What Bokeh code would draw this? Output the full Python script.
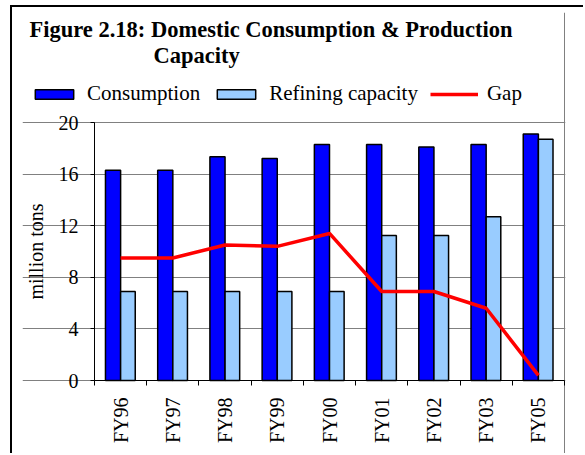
import math
from bokeh.plotting import figure
from bokeh.models import (ColumnDataSource, Range1d, FixedTicker, Legend, LegendItem,
                          Label, LinearAxis)
from bokeh.embed import file_html
from bokeh.resources import INLINE

# ---- data ----
years = ["FY96", "FY97", "FY98", "FY99", "FY00", "FY01", "FY02", "FY03", "FY05"]
consumption = [16.3, 16.3, 17.35, 17.2, 18.3, 18.3, 18.1, 18.3, 19.1]
capacity = [6.9, 6.9, 6.9, 6.9, 6.9, 11.25, 11.25, 12.7, 18.7]
gap = [9.5, 9.5, 10.5, 10.4, 11.4, 6.9, 6.9, 5.6, 0.4]
y_ticks = [0, 4, 8, 12, 16, 20]
series_names = ["Consumption", "Refining capacity", "Gap"]
title_lines = ["Figure 2.18: Domestic Consumption & Production", "Capacity"]

n = len(years)
xpos = list(range(1, n + 1))
src = ColumnDataSource(dict(
    x=xpos,
    xc=[v - 0.145 for v in xpos],
    xr=[v + 0.14 for v in xpos],
    cons=consumption, cap=capacity, gap=gap,
))

# ---- geometry (pixels on the canvas) ----
W, H = 573, 448
FRAME_L, FRAME_R, FRAME_T, FRAME_B = 10, 553, 5, 447     # whole drawing area
PLOT_L, PLOT_R, PLOT_T, PLOT_B = 82, 552, 115, 373       # the chart box
YMAX = 20
ppx = (PLOT_R - PLOT_L) / n
ppy = (PLOT_B - PLOT_T) / YMAX
x0 = 0.5 - (PLOT_L - FRAME_L) / ppx
x1 = n + 0.5 + (FRAME_R - PLOT_R) / ppx
y0 = -(FRAME_B - PLOT_B) / ppy
y1 = YMAX + (PLOT_T - FRAME_T) / ppy


def sx(cx):
    return cx - FRAME_L


def sy(cy):
    return FRAME_B - cy


FONT = "Liberation Serif"
C_CONS, C_CAP, C_GAP = "#0000FF", "#99CCFF", "#FF0000"
GRID = "#808080"

p = figure(width=W, height=H, output_backend="svg", toolbar_location=None,
           x_range=Range1d(x0, x1), y_range=Range1d(y0, y1),
           x_axis_location=None, y_axis_location=None,
           min_border_left=FRAME_L, min_border_right=W - FRAME_R,
           min_border_top=FRAME_T, min_border_bottom=H - FRAME_B)
p.styles = {"border-left": "2px solid black", "border-top": "2px solid black",
            "margin-top": "5px", "margin-left": "10px"}
p.background_fill_color = "white"
p.border_fill_color = "white"
p.outline_line_color = None

r_cons = p.vbar(x="xc", top="cons", width=0.29, source=src, fill_color=C_CONS,
                line_color="black", line_width=1.5)
r_cap = p.vbar(x="xr", top="cap", width=0.28, source=src, fill_color=C_CAP,
               line_color="black", line_width=1.5)
r_gap = p.line(x="x", y="gap", source=src, line_color=C_GAP, line_width=3.5)

# axes placed on the chart box edges
yax = LinearAxis(fixed_location=0.5, ticker=FixedTicker(ticks=y_ticks), bounds=(0, YMAX))
p.add_layout(yax, "left")
yax.minor_tick_line_color = None
yax.major_tick_out = 4
yax.major_tick_in = 0
yax.major_label_standoff = 12
yax.axis_label = "million tons"
yax.axis_label_standoff = 9
yax.axis_label_text_font = FONT
yax.axis_label_text_font_style = "normal"
yax.axis_label_text_font_size = "20px"
yax.axis_label_text_color = "black"
yax.axis_line_color = "black"

xax = LinearAxis(fixed_location=0,
                 ticker=FixedTicker(ticks=xpos, minor_ticks=[v - 0.5 for v in xpos] + [n + 0.5]),
                 bounds=(0.5, n + 0.5))
p.add_layout(xax, "below")
xax.major_label_overrides = {v: y for v, y in zip(xpos, years)}
xax.major_tick_out = 0
xax.major_tick_in = 0
xax.minor_tick_out = 5
xax.minor_tick_in = 0
xax.minor_tick_line_color = "black"
xax.major_label_orientation = math.pi / 2
xax.major_label_standoff = 12
xax.axis_line_color = "black"

for ax in (xax, yax):
    ax.major_label_text_font = FONT
    ax.major_label_text_font_size = "20px"
    ax.major_label_text_color = "black"

# grid: horizontal lines + right edge of chart box
p.ygrid.grid_line_color = GRID
p.ygrid.grid_line_width = 1
p.ygrid.bounds = (0.5, n + 0.5)
p.ygrid.ticker = FixedTicker(ticks=y_ticks)
p.xgrid.ticker = FixedTicker(ticks=[n + 0.5])
p.xgrid.grid_line_color = GRID
p.xgrid.bounds = (0, YMAX)

# legend (above the chart box)
legend = Legend(items=[
    LegendItem(label=series_names[0], renderers=[r_cons]),
    LegendItem(label=series_names[1], renderers=[r_cap]),
    LegendItem(label=series_names[2], renderers=[r_gap]),
], orientation="horizontal", location=(sx(18), sy(99)), glyph_width=48, glyph_height=12,
    label_standoff=9, spacing=12, padding=0, margin=0, border_line_color=None,
    background_fill_alpha=0, label_text_font=FONT, label_text_font_size="21px",
    label_text_color="black")
p.add_layout(legend)

# title
p.add_layout(Label(x=sx(17), y=sy(22), x_units="screen", y_units="screen",
                   text=title_lines[0], text_font=FONT, text_font_style="bold",
                   text_font_size="22.5px", text_baseline="alphabetic", text_color="black"))
p.add_layout(Label(x=sx(141), y=sy(47.5), x_units="screen", y_units="screen",
                   text=title_lines[1], text_font=FONT, text_font_style="bold",
                   text_font_size="22.5px", text_baseline="alphabetic", text_color="black"))

open("out.html", "w").write(file_html(p, INLINE))
